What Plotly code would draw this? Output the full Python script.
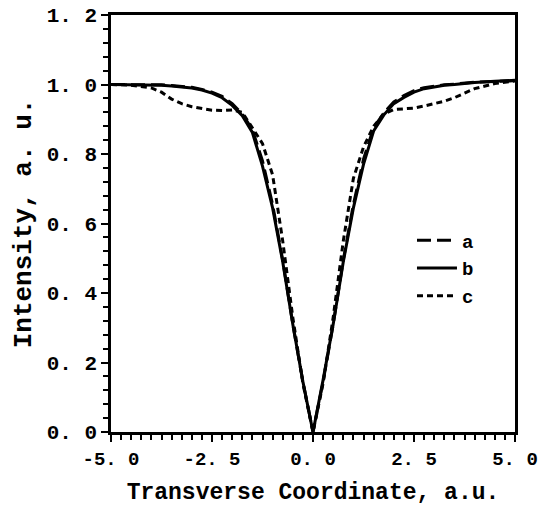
import plotly.graph_objects as go

# Transverse coordinate (a.u.)
x_coord = [-5.0, -4.5, -4.0, -3.75, -3.5, -3.25, -3.0, -2.75, -2.5, -2.25, -2.0, -1.75,
           -1.5, -1.25, -1.0, -0.75, -0.5, -0.25, 0.0,
           0.25, 0.5, 0.75, 1.0, 1.25, 1.5, 1.75, 2.0, 2.25, 2.5, 2.75, 3.0, 3.25,
           3.5, 3.75, 4.0, 4.5, 5.0]

# curve a (long dash)
int_a = [1.0, 1.0, 1.0, 0.999, 0.997, 0.995, 0.992, 0.986, 0.978, 0.966, 0.945, 0.915,
         0.87, 0.78, 0.655, 0.495, 0.31, 0.145, 0.0,
         0.145, 0.31, 0.495, 0.655, 0.785, 0.875, 0.918, 0.95, 0.968, 0.982, 0.991, 0.996, 0.999,
         1.001, 1.004, 1.007, 1.009, 1.011]

# curve b (solid)
int_b = [1.0, 1.0, 0.999, 0.998, 0.996, 0.994, 0.99, 0.984, 0.975, 0.962, 0.94, 0.91,
         0.862, 0.765, 0.645, 0.49, 0.31, 0.145, 0.0,
         0.15, 0.31, 0.49, 0.645, 0.77, 0.866, 0.912, 0.945, 0.963, 0.978, 0.988, 0.994, 0.998,
         1.0, 1.003, 1.006, 1.009, 1.012]

# curve c (short dash)
int_c = [1.0, 0.998, 0.99, 0.978, 0.958, 0.945, 0.936, 0.93, 0.926, 0.925, 0.927, 0.92,
         0.875, 0.83, 0.74, 0.55, 0.33, 0.14, 0.0,
         0.14, 0.33, 0.55, 0.73, 0.82, 0.88, 0.915, 0.928, 0.93, 0.932, 0.938, 0.945, 0.952,
         0.962, 0.975, 0.988, 1.003, 1.01]

series_names = ["a", "b", "c"]

x_tickvals = [-5.0, -2.5, 0.0, 2.5, 5.0]
x_ticktext = ["-5. 0", "-2. 5", "0. 0", "2. 5", "5. 0"]
y_tickvals = [0.0, 0.2, 0.4, 0.6, 0.8, 1.0, 1.2]
y_ticktext = ["0. 0", "0. 2", "0. 4", "0. 6", "0. 8", "1. 0", "1. 2"]

FONT = "Liberation Mono"

fig = go.Figure()
styles = [("14px,6px", int_a), ("solid", int_b), ("6px,4px", int_c)]
for name, (dash, ys) in zip(series_names, styles):
    fig.add_trace(go.Scatter(
        x=x_coord, y=ys, mode="lines", name=name,
        line=dict(color="black", width=3, dash=dash),
    ))

axis_common = dict(
    showline=True, linecolor="black", linewidth=2.5, mirror=True,
    showgrid=False, zeroline=False, automargin=False,
    ticks="outside", tickcolor="black", tickwidth=2, ticklen=7,
)

fig.update_xaxes(
    range=[-5, 5], tickvals=x_tickvals, ticktext=x_ticktext,
    tickfont=dict(family=FONT, size=19, color="black", weight="bold"),
    minor=dict(dtick=0.25, ticks="outside", ticklen=5, tickwidth=2, tickcolor="black"),
    title=dict(text="Transverse Coordinate, a.u.",
               font=dict(family=FONT, size=23, color="black", weight="bold"),
               standoff=14),
    **axis_common,
)
fig.update_yaxes(
    range=[0, 1.2], tickvals=y_tickvals, ticktext=y_ticktext,
    tickfont=dict(family=FONT, size=21, color="black", weight="bold"),
    minor=dict(dtick=0.04, ticks="outside", ticklen=5, tickwidth=2, tickcolor="black"),
    title=dict(text="Intensity, a. u.",
               font=dict(family=FONT, size=26, color="black", weight="bold"),
               standoff=8),
    **axis_common,
)

fig.update_layout(
    width=544, height=506,
    margin=dict(l=111, r=29, t=15, b=74),
    paper_bgcolor="white", plot_bgcolor="white",
    showlegend=True,
    legend=dict(x=0.745, y=0.505, xanchor="left", yanchor="top",
                bgcolor="rgba(0,0,0,0)", borderwidth=0,
                font=dict(family=FONT, size=19, color="black", weight="bold"),
                tracegroupgap=0, itemwidth=40),
)

fig.write_html("out.html")
